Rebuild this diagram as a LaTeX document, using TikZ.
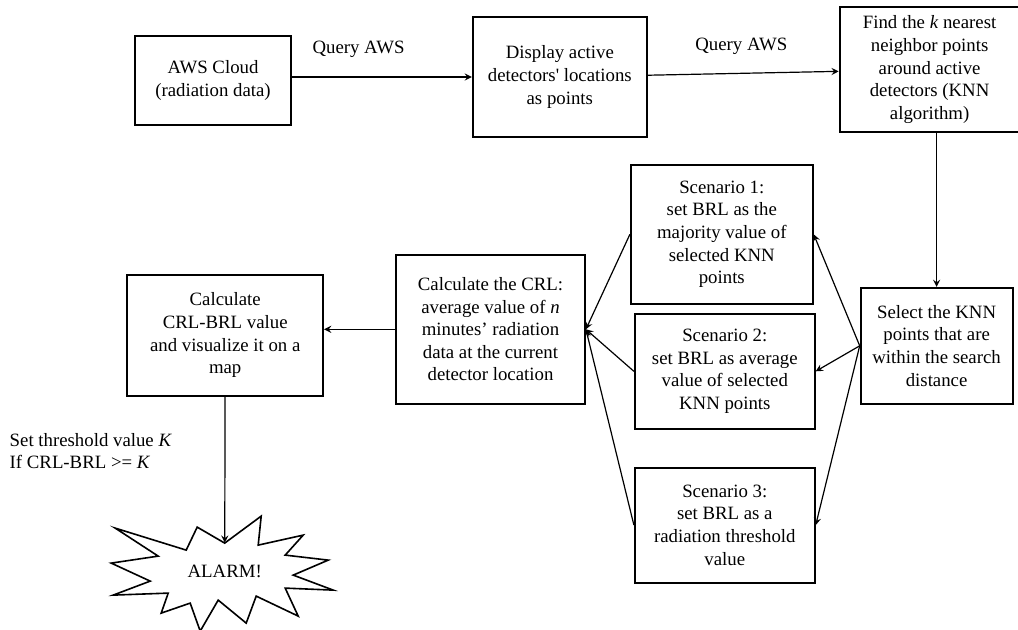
\documentclass[tikz,border=0pt]{standalone}
\usepackage{fontspec}
\setmainfont{Liberation Serif}
\usepackage{tikz}
\usetikzlibrary{positioning, arrows}
\tikzstyle{process} = [rectangle, line width=0.9pt, draw=black, text centered, align=center, inner sep=2pt, font=\fontsize{9.4}{11.3}\selectfont]
\tikzstyle{note} = [inner sep=0pt, align=left, font=\fontsize{9.4}{11.3}\selectfont]
\tikzstyle{arrow} = [line width=0.6pt,->,>=stealth]
\tikzstyle{bound} = [line width=0.8pt, draw=black, line join=miter]

\begin{document}
\begin{tikzpicture}
    \useasboundingbox (0,0) rectangle (509pt,-314.5pt);
    \node (1) [process, minimum width=78pt, minimum height=44.5pt] at (106.5pt,-40.25pt)
      {AWS Cloud\\(radiation data)};
    \node (2) [process, right=90pt of 1, yshift=1.75pt, minimum width=87pt, minimum height=60pt]
      {Display active\\detectors\textquotesingle{} locations\\as points};
    \node (3) [process, right=95.5pt of 2, yshift=3.75pt, minimum width=90pt, minimum height=62.5pt]
      {Find the \textit{k} nearest\\neighbor points\\around active\\detectors (KNN\\algorithm)};
    \node (4) [process, below=77pt of 3, xshift=3.5pt, minimum width=76pt, minimum height=58pt]
      {Select the KNN\\points that are\\within the search\\distance};
    \node (5) [process, left=23pt of 4, yshift=55.75pt, minimum width=91pt, minimum height=69.5pt]
      {Scenario 1:\\set BRL as the\\majority value of\\selected KNN\\points};
    \node (6) [process, left=22pt of 4, yshift=-12.75pt, minimum width=90pt, minimum height=57.5pt]
      {Scenario 2:\\set BRL as average\\value of selected\\KNN points};
    \node (7) [process, below=18.5pt of 6, minimum width=90pt, minimum height=57.5pt]
      {Scenario 3:\\set BRL as a\\radiation threshold\\value};
    \node (8) [process, left=24pt of 6, yshift=21pt, minimum width=94.5pt, minimum height=74.5pt]
      {Calculate the CRL:\\average value of \textit{n}\\minutes' radiation\\data at the current\\detector location};
    \node (9) [process, left=35.5pt of 8, yshift=-3pt, minimum width=98pt, minimum height=60.5pt]
      {Calculate\\CRL-BRL value\\and visualize it on a\\map};
    \node (10) [note, below=73pt of 9, xshift=-0.25pt, minimum height=28pt]
      {ALARM!};
    \node (11) [note, anchor=west] at ([shift={(-58.5pt,-27.25pt)}]9.south west)
      {Set threshold value \textit{K}\\If CRL-BRL >= \textit{K}};
    % alarm outline
    \begin{scope}[shift={(10.center)}]
      \draw [bound] (-54.75pt,21.5pt) -- (-19.25pt,10.5pt) -- (-13.75pt,22pt) -- (0pt,14pt)
        -- (18.25pt,27.5pt) -- (16.75pt,13pt) -- (39.25pt,18pt) -- (30.25pt,8pt)
        -- (51.75pt,5.5pt) -- (34.25pt,-2pt) -- (54.25pt,-9.5pt) -- (30.25pt,-8.5pt)
        -- (36.75pt,-22.5pt) -- (15.75pt,-12.5pt) -- (10.75pt,-26pt) -- (-3.25pt,-14.5pt)
        -- (-12.25pt,-30pt) -- (-17.25pt,-16pt) -- (-31.75pt,-21pt) -- (-28.25pt,-11pt)
        -- (-55.75pt,-12pt) -- (-37.25pt,-5pt) -- (-56.75pt,4pt) -- (-33.25pt,7.5pt) -- cycle;
    \end{scope}
    \draw [arrow] (1.east |- 2.west) -- node[pos=0.37, yshift=14pt, note] {Query AWS} (2.west);
    \draw [arrow] (2) -- node[pos=0.49, yshift=13.75pt, note] {Query AWS} (3);
    \draw [arrow] (4 |- 3.south) -- (4);
    \draw [arrow] (4.west) -- (5.east);
    \draw [arrow] (4.west) -- (6.east);
    \draw [arrow] (4.west) -- (7.east);
    \draw [arrow] (5.west) -- (8.east);
    \draw [arrow] (6.west) -- (8.east);
    \draw [arrow] (7.west) -- (8.east);
    \draw [arrow] (8.west) -- (8.west -| 9.east);
    \draw [arrow] (9) -- (10);
  \end{tikzpicture}
\end{document}
